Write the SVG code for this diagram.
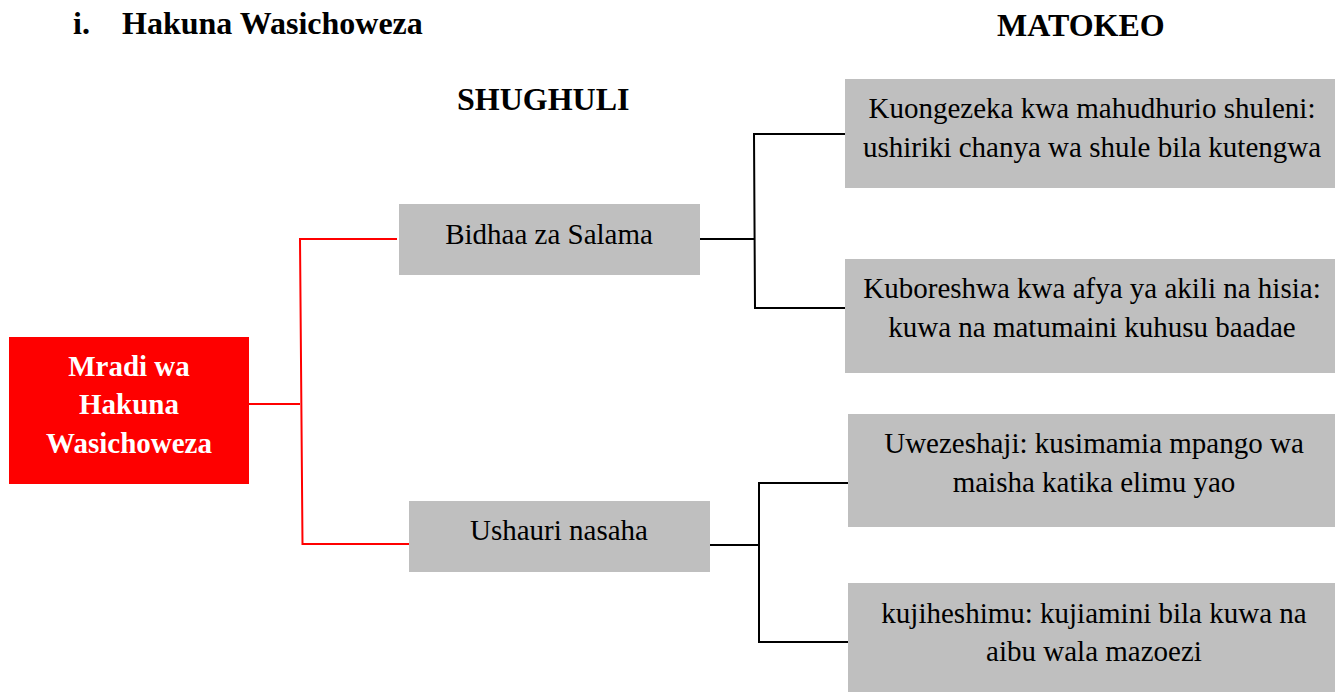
<svg xmlns="http://www.w3.org/2000/svg" width="1335" height="692" viewBox="0 0 1335 692">
<style>
.t{font-family:"Liberation Serif","Times New Roman",serif;font-size:29px;fill:#000;text-anchor:middle}
.h{font-family:"Liberation Serif","Times New Roman",serif;font-size:32px;font-weight:bold;fill:#000}
.w{font-family:"Liberation Serif","Times New Roman",serif;font-size:29px;font-weight:bold;fill:#fff;text-anchor:middle}
.g{fill:#bfbfbf}
.r{stroke:#ff0000;stroke-width:2;fill:none}
.k{stroke:#000;stroke-width:2;fill:none}
</style>
<rect width="1335" height="692" fill="#fff"/>
<g id="titles">
<text class="h" x="73" y="34">i.</text>
<text class="h" x="122" y="34">Hakuna Wasichoweza</text>
<text class="h" x="997" y="36">MATOKEO</text>
<text class="h" x="457" y="110">SHUGHULI</text>
</g>
<g id="connectors">
<polyline class="r" points="249,404 300,404"/>
<polyline class="r" points="397,239 300,239 302.5,544 409,544"/>
<polyline class="k" points="696,239 754,239"/>
<polyline class="k" points="845,134 754,134 755,308 845,308"/>
<polyline class="k" points="709,545 759,545"/>
<polyline class="k" points="849,483 759,483 759,642 849,642"/>
</g>
<g id="root">
<rect x="9" y="337" width="240" height="147" fill="#fe0000"/>
<text class="w" x="129" y="376">Mradi wa</text>
<text class="w" x="129" y="414">Hakuna</text>
<text class="w" x="129" y="453">Wasichoweza</text>
</g>
<g id="bidhaa">
<rect class="g" x="399" y="204" width="301" height="71"/>
<text class="t" x="549" y="244">Bidhaa za Salama</text>
</g>
<g id="ushauri">
<rect class="g" x="409" y="501" width="301" height="71"/>
<text class="t" x="559" y="540">Ushauri nasaha</text>
</g>
<g id="m1">
<rect class="g" x="845" y="79" width="490" height="109"/>
<text class="t" x="1092" y="118">Kuongezeka kwa mahudhurio shuleni:</text>
<text class="t" x="1092" y="156.5">ushiriki chanya wa shule bila kutengwa</text>
</g>
<g id="m2">
<rect class="g" x="845" y="259" width="490" height="114"/>
<text class="t" x="1092" y="298">Kuboreshwa kwa afya ya akili na hisia:</text>
<text class="t" x="1092" y="337">kuwa na matumaini kuhusu baadae</text>
</g>
<g id="m3">
<rect class="g" x="848" y="414" width="487" height="113"/>
<text class="t" x="1094" y="453">Uwezeshaji: kusimamia mpango wa</text>
<text class="t" x="1094" y="492">maisha katika elimu yao</text>
</g>
<g id="m4">
<rect class="g" x="848" y="583" width="487" height="109"/>
<text class="t" x="1094" y="623">kujiheshimu: kujiamini bila kuwa na</text>
<text class="t" x="1094" y="661">aibu wala mazoezi</text>
</g>
</svg>
